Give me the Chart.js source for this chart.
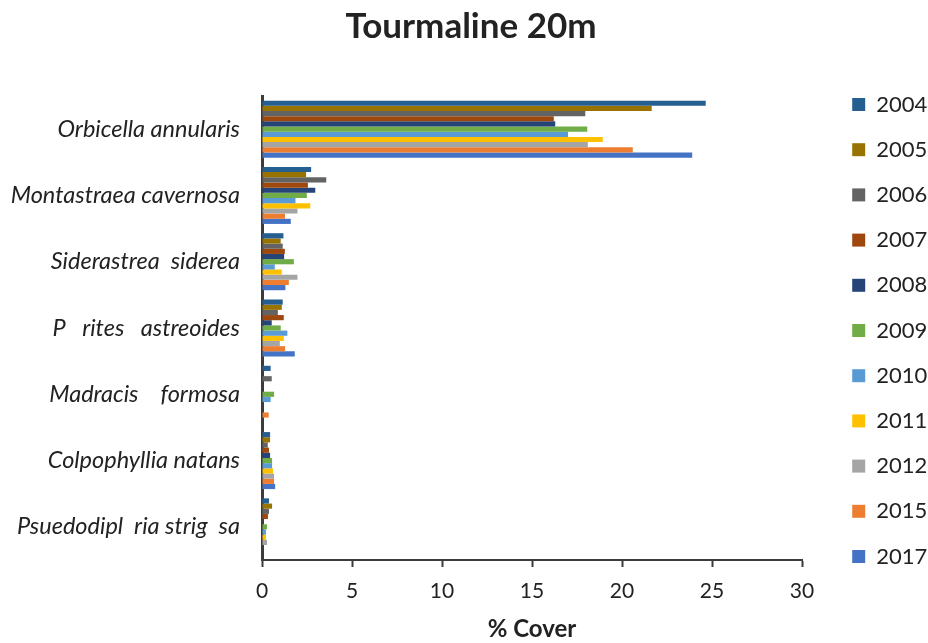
<!DOCTYPE html>
<html>
<head>
<meta charset="utf-8">
<script src="https://cdn.jsdelivr.net/npm/chart.js@4.4.1/dist/chart.umd.min.js"></script>
<style>
  html, body { margin: 0; padding: 0; background: #ffffff; }
  #wrap { width: 928px; height: 643px; }
</style>
</head>
<body>
<div id="wrap"><canvas id="c" width="928" height="643"></canvas></div>
<script>
const categories = [
  'Orbicella annularis',
  'Montastraea cavernosa',
  'Siderastrea  siderea',
  'P   rites   astreoides',
  'Madracis    formosa',
  'Colpophyllia natans',
  'Psuedodipl  ria strig  sa'
];
const years = ['2004', '2005', '2006', '2007', '2008', '2009', '2010', '2011', '2012', '2015', '2017'];

const cover2004 = [24.65, 2.73, 1.19, 1.15, 0.48, 0.45, 0.39];
const cover2005 = [21.65, 2.45, 1.04, 1.10, 0, 0.45, 0.56];
const cover2006 = [17.96, 3.57, 1.15, 0.88, 0.54, 0.32, 0.39];
const cover2007 = [16.21, 2.55, 1.27, 1.21, 0, 0.39, 0.33];
const cover2008 = [16.29, 2.96, 1.23, 0.54, 0, 0.45, 0];
const cover2009 = [18.07, 2.49, 1.77, 1.04, 0.67, 0.56, 0.28];
const cover2010 = [17.00, 1.86, 0.71, 1.41, 0.48, 0.56, 0.22];
const cover2011 = [18.93, 2.68, 1.10, 1.21, 0, 0.61, 0.22];
const cover2012 = [18.10, 1.97, 1.97, 0.99, 0, 0.67, 0.28];
const cover2015 = [20.60, 1.28, 1.49, 1.28, 0.37, 0.67, 0];
const cover2017 = [23.90, 1.60, 1.30, 1.82, 0, 0.73, 0];

const seriesValues = [cover2004, cover2005, cover2006, cover2007, cover2008, cover2009,
                      cover2010, cover2011, cover2012, cover2015, cover2017];
const seriesColors = ['#255e91', '#997300', '#636363', '#9e480e', '#264478', '#70ad47',
                      '#5b9bd5', '#ffc000', '#a5a5a5', '#ed7d31', '#4472c4'];

const xTicks = [0, 5, 10, 15, 20, 25, 30];

const FONT = "Lato, 'Open Sans', 'Liberation Sans', sans-serif";
const TEXT = '#222222';
const AXIS = '#3c3c3c';

const datasets = years.map((y, i) => ({
  label: y,
  data: seriesValues[i],
  backgroundColor: seriesColors[i],
  borderWidth: 0,
  barPercentage: 1.0,
  categoryPercentage: 0.86
}));

const layoutTweaks = {
  id: 'layoutTweaks',
  beforeLayout(chart) {
    const lg = chart.legend;
    if (lg && !lg._wrappedFit) {
      const orig = lg.fit;
      lg.fit = function () {
        orig.call(this);
        if (!this.isHorizontal()) this.width = 126;
      };
      lg._wrappedFit = true;
    }
  },
  afterLayout(chart) {
    const lg = chart.legend;
    if (lg) {
      lg.left += 27; lg.right += 27;
      lg.top += 9; lg.bottom += 9;
    }
    const tb = chart.titleBlock;
    if (tb) { tb.left += 7; tb.right += 7; }
  }
};

new Chart(document.getElementById('c'), {
  type: 'bar',
  data: { labels: categories, datasets },
  plugins: [layoutTweaks],
  options: {
    indexAxis: 'y',
    responsive: false,
    animation: false,
    devicePixelRatio: 1,
    layout: { padding: { left: 0, right: 0, top: 0, bottom: 0 } },
    plugins: {
      title: {
        display: true,
        text: 'Tourmaline 20m',
        color: TEXT,
        font: { family: FONT, size: 35, weight: 'bold' },
        padding: { top: 6, bottom: 48 }
      },
      legend: {
        display: true,
        position: 'right',
        align: 'center',
        labels: {
          color: TEXT,
          font: { family: FONT, size: 22 },
          boxWidth: 13,
          boxHeight: 13,
          padding: 23.2
        }
      },
      tooltip: { enabled: false }
    },
    scales: {
      x: {
        type: 'linear',
        position: 'bottom',
        min: 0,
        max: 30,
        afterBuildTicks(scale) { scale.ticks = xTicks.map(v => ({ value: v })); },
        afterFit(scale) { scale.height = 83; },
        grid: {
          display: true,
          drawOnChartArea: false,
          drawTicks: true,
          tickLength: 7,
          tickWidth: 2,
          tickColor: AXIS
        },
        border: { display: true, color: AXIS, width: 2 },
        ticks: {
          color: TEXT,
          font: { family: FONT, size: 21 },
          padding: 12,
          maxRotation: 0
        },
        title: {
          display: true,
          text: '% Cover',
          color: TEXT,
          font: { family: FONT, size: 24, weight: 'bold' },
          padding: { top: 0, bottom: -1 }
        }
      },
      y: {
        type: 'category',
        position: 'left',
        afterFit(scale) { scale.width = 262; },
        grid: { display: true, drawOnChartArea: false, drawTicks: false },
        border: { display: true, color: AXIS, width: 3 },
        ticks: {
          color: TEXT,
          font: { family: FONT, size: 23.5, style: 'italic' },
          padding: 22,
          autoSkip: false
        }
      }
    }
  }
});
</script>
</body>
</html>
